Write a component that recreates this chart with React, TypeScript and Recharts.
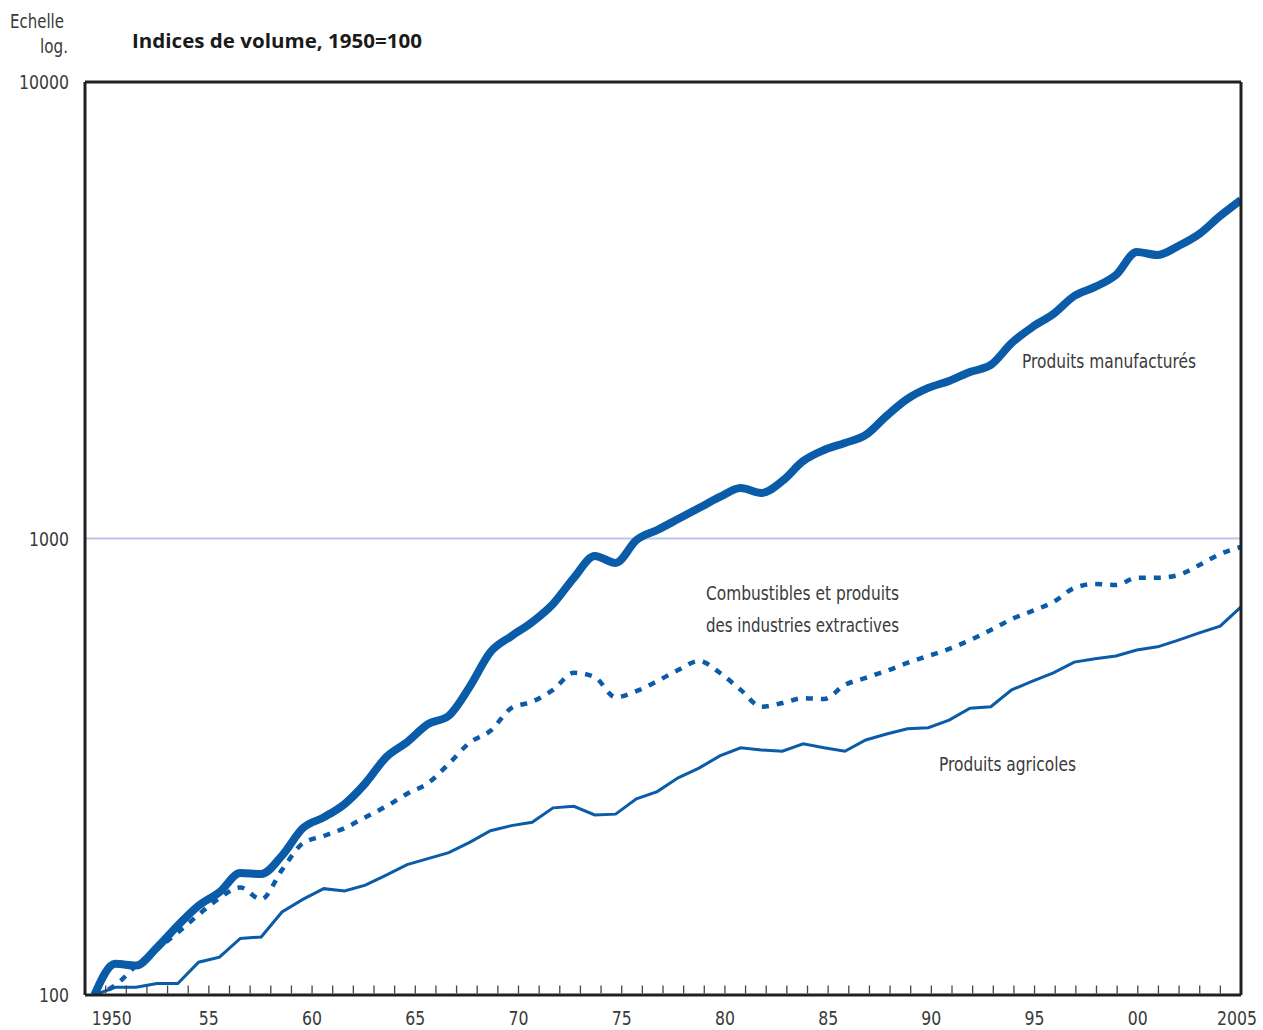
import React from "react";
import {
  LineChart,
  Line,
  XAxis,
  YAxis,
  ReferenceLine,
} from "recharts";

const years = [
  1950, 1951, 1952, 1953, 1954, 1955, 1956, 1957, 1958, 1959,
  1960, 1961, 1962, 1963, 1964, 1965, 1966, 1967, 1968, 1969,
  1970, 1971, 1972, 1973, 1974, 1975, 1976, 1977, 1978, 1979,
  1980, 1981, 1982, 1983, 1984, 1985, 1986, 1987, 1988, 1989,
  1990, 1991, 1992, 1993, 1994, 1995, 1996, 1997, 1998, 1999,
  2000, 2001, 2002, 2003, 2004, 2005,
];

const manufactures = [
  100, 117, 116, 127, 142, 157, 168, 185, 184, 202,
  232, 245, 262, 291, 332, 358, 392, 409, 473, 564,
  611, 656, 719, 820, 916, 884, 992, 1044, 1103, 1166,
  1233, 1290, 1258, 1337, 1478, 1563, 1619, 1686, 1856, 2022,
  2137, 2213, 2316, 2400, 2681, 2907, 3102, 3398, 3557, 3778,
  4243, 4179, 4373, 4645, 5088, 5515,
];

const combustibles = [
  100, 105, 116, 126, 137, 150, 163, 172, 162, 188,
  215, 223, 232, 245, 259, 276, 291, 321, 357, 379,
  425, 439, 466, 508, 497, 449, 463, 487, 515, 539,
  508, 466, 428, 436, 447, 445, 478, 495, 513, 534,
  553, 573, 599, 630, 666, 694, 726, 779, 795, 791,
  820, 820, 832, 875, 925, 958,
];

const agricoles = [
  100, 104, 104, 106, 106, 118, 121, 133, 134, 152,
  162, 171, 169, 174, 183, 193, 199, 205, 216, 229,
  235, 239, 257, 259, 248, 249, 269, 279, 299, 314,
  334, 348, 344, 342, 355, 348, 342, 362, 373, 383,
  385, 400, 425, 428, 466, 487, 508, 536, 545, 553,
  570, 579, 599, 621, 643, 708,
];

const xTickLabels = ["1950", "55", "60", "65", "70", "75", "80", "85", "90", "95", "00", "2005"];
const yTicks = [100, 1000, 10000];

const data = years.map((year, i) => ({
  year,
  manufactures: manufactures[i],
  combustibles: combustibles[i],
  agricoles: agricoles[i],
}));

const BLUE = "#0a5ba8";
const TEXT = "#3a3a3a";
const FRAME = "#231f20";
const FONT = "'DejaVu Sans', 'Liberation Sans', sans-serif";
const X_DOMAIN: [number, number] = [1949.55, 2005];
const Y_DOMAIN: [number, number] = [100, 10000];
const DIGIT_W = 10;
const TICK_LEN = 8;

// the frame is divided into 56 yearly bands; tick marks sit on band edges
const BAND_COUNT = years.length;
const bandW = (X_DOMAIN[1] - X_DOMAIN[0]) / BAND_COUNT;
const bandTicks = Array.from({ length: BAND_COUNT }, (_, k) =>
  k === BAND_COUNT - 1 ? X_DOMAIN[1] : X_DOMAIN[0] + (k + 1) * bandW
);

const XTick = (props: any) => {
  const { x, y, index } = props;
  const k = (index as number) + 1;
  const labelIdx = (k - 1) % 5 === 0 ? (k - 1) / 5 : -1;
  const label = labelIdx >= 0 ? xTickLabels[labelIdx] : "";
  const shift = labelIdx === 0 ? 6 : labelIdx === xTickLabels.length - 1 ? -4 : 0;
  return (
    <g>
      {k < BAND_COUNT && (
        <path d={`M${x},${y - 1.5}V${y - 1.5 - TICK_LEN}`} stroke="#444" strokeWidth={1.3} fill="none" />
      )}
      {labelIdx >= 0 && (
        <text
          x={x + shift}
          y={y + 30}
          textAnchor="middle"
          fontFamily={FONT}
          fontSize={20}
          fill={TEXT}
          textLength={label.length * DIGIT_W}
          lengthAdjust="spacingAndGlyphs"
        >
          {label}
        </text>
      )}
    </g>
  );
};

const YTick = (props: any) => {
  const { x, y, payload } = props;
  const s = String(payload.value);
  return (
    <text
      x={x}
      y={y + 7}
      textAnchor="end"
      fontFamily={FONT}
      fontSize={20}
      fill={TEXT}
      textLength={s.length * DIGIT_W}
      lengthAdjust="spacingAndGlyphs"
    >
      {s}
    </text>
  );
};

const Label = ({ x, y, w, anchor, children, bold, size, color }: any) => (
  <text
    x={x}
    y={y}
    textAnchor={anchor || "start"}
    fontFamily={bold ? "'Open Sans', 'DejaVu Sans', sans-serif" : FONT}
    fontWeight={bold ? "bold" : "normal"}
    fontSize={size || 20}
    fill={color || TEXT}
    textLength={w}
    lengthAdjust="spacingAndGlyphs"
  >
    {children}
  </text>
);

const frameLine = { stroke: FRAME, strokeWidth: 3 };

export default function App() {
  return (
    <div style={{ position: "absolute", left: 0, top: 0, width: 1263, height: 1030, background: "#fff" }}>
      <LineChart
        width={1263}
        height={1030}
        data={data}
        margin={{ top: 82, right: 22, bottom: 0, left: 10 }}
      >
        <ReferenceLine xAxisId="d" yAxisId="y" y={1000} stroke="#bec6e2" strokeWidth={2.2} />
        <Line
          xAxisId="d"
          yAxisId="y"
          dataKey="agricoles"
          type="linear"
          stroke={BLUE}
          strokeWidth={3}
          dot={false}
          isAnimationActive={false}
        />
        <Line
          xAxisId="d"
          yAxisId="y"
          dataKey="combustibles"
          type="monotone"
          stroke={BLUE}
          strokeWidth={4.5}
          strokeDasharray="7 8"
          dot={false}
          isAnimationActive={false}
        />
        <Line
          xAxisId="d"
          yAxisId="y"
          dataKey="manufactures"
          type="monotone"
          stroke={BLUE}
          strokeWidth={8}
          dot={false}
          isAnimationActive={false}
        />
        <ReferenceLine
          xAxisId="d"
          yAxisId="y"
          y={Y_DOMAIN[1]}
          stroke={FRAME}
          strokeWidth={3}
          ifOverflow="visible"
        />
        <ReferenceLine
          xAxisId="d"
          yAxisId="y"
          x={X_DOMAIN[1]}
          stroke={FRAME}
          strokeWidth={3}
          ifOverflow="visible"
        />
        <XAxis
          xAxisId="d"
          dataKey="year"
          type="number"
          domain={X_DOMAIN}
          ticks={bandTicks}
          interval={0}
          allowDataOverflow
          axisLine={frameLine}
          tickLine={false}
          tickSize={0}
          tickMargin={0}
          height={35}
          tick={<XTick />}
        />
        <YAxis
          yAxisId="y"
          type="number"
          scale="log"
          domain={Y_DOMAIN}
          ticks={yTicks}
          allowDataOverflow
          width={75}
          axisLine={frameLine}
          tickLine={false}
          tickSize={0}
          tickMargin={16}
          tick={<YTick />}
        />
      </LineChart>
      <svg
        width={1263}
        height={1030}
        style={{ position: "absolute", left: 0, top: 0, pointerEvents: "none" }}
      >
        <Label x={64} y={28} w={54} anchor="end">Echelle</Label>
        <Label x={68} y={53} w={28} anchor="end">log.</Label>
        <Label x={132} y={48} w={290} bold size={20} color="#1a1a1a">
          Indices de volume, 1950=100
        </Label>
        <Label x={1022} y={368} w={174}>Produits manufacturés</Label>
        <Label x={706} y={600} w={193}>Combustibles et produits</Label>
        <Label x={706} y={632} w={193}>des industries extractives</Label>
        <Label x={939} y={771} w={137}>Produits agricoles</Label>
      </svg>
    </div>
  );
}
